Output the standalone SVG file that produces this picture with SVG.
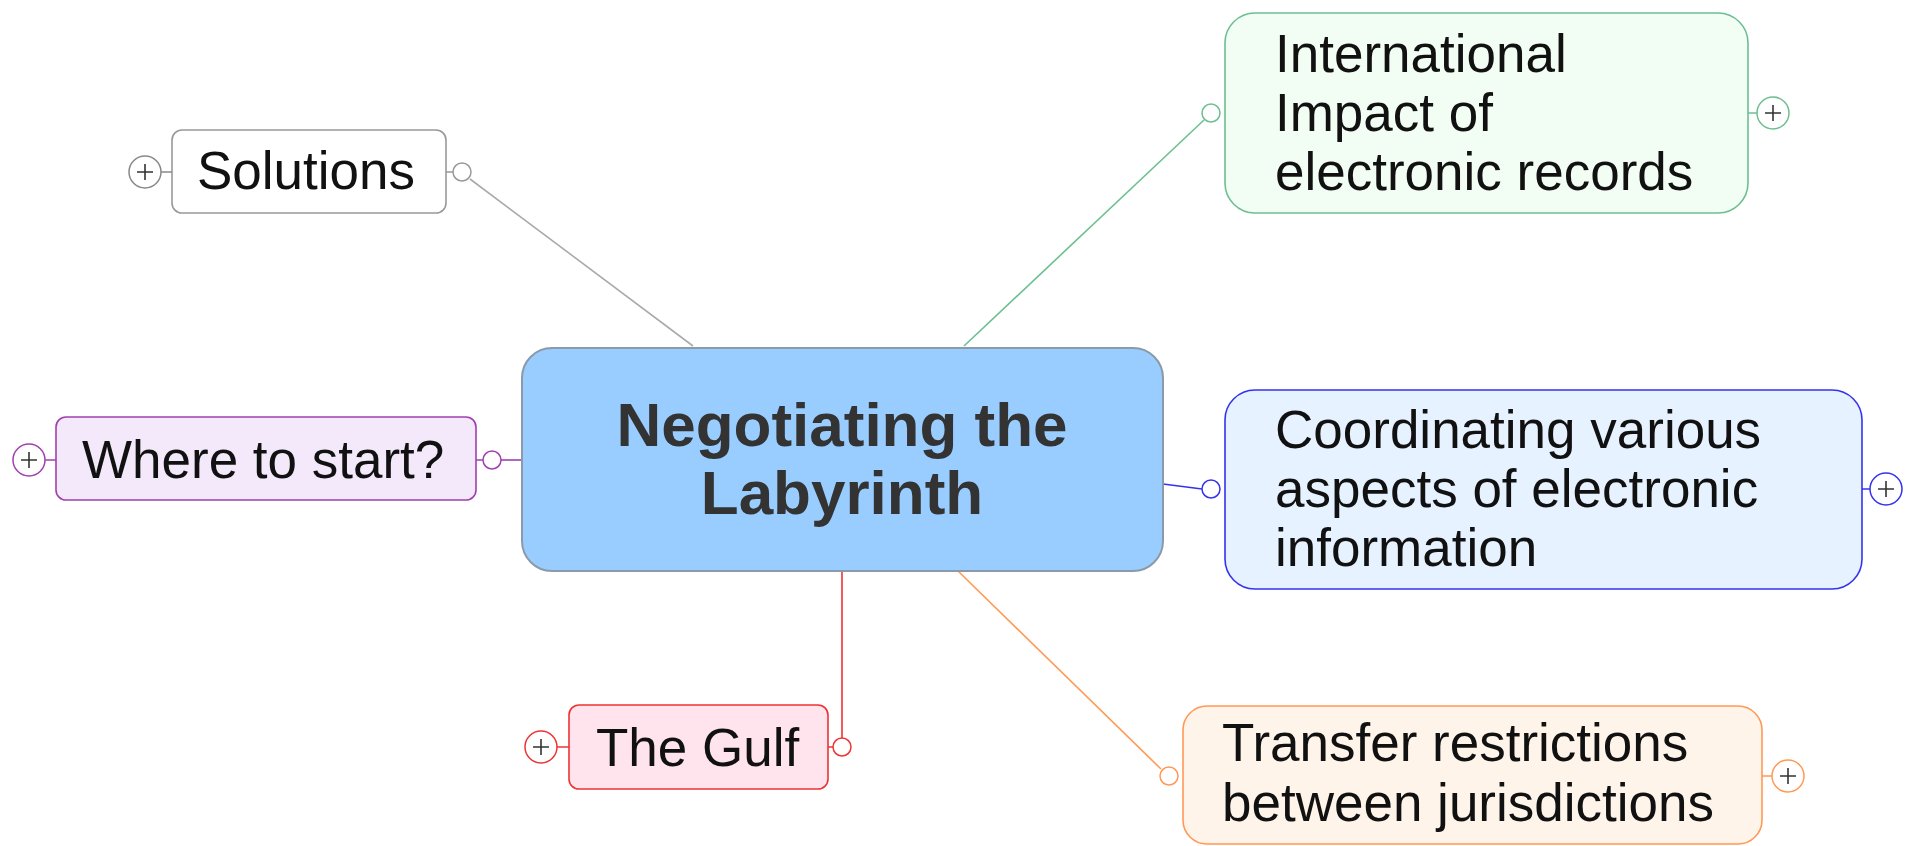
<svg xmlns="http://www.w3.org/2000/svg" width="1923" height="846" viewBox="0 0 1923 846">
<style>
.t{font-family:"Liberation Sans",Arial,Helvetica,sans-serif;font-size:53px;fill:#111}
.c{font-family:"Liberation Sans",Arial,Helvetica,sans-serif;font-size:62px;font-weight:bold;fill:#333;text-anchor:middle}
.b{stroke-width:1.6}
.ln{fill:none;stroke-width:1.6}
.pl{stroke:#333;stroke-width:1.6;fill:none}
</style>
<rect width="1923" height="846" fill="#fff"/>
<g id="connectors">
<line class="ln" x1="470" y1="179" x2="693" y2="346" stroke="#aaa"/>
<line class="ln" x1="1204" y1="120" x2="964" y2="346" stroke="#6cbf92"/>
<line class="ln" x1="1163" y1="484" x2="1202" y2="489" stroke="#3333ee"/>
<line class="ln" x1="958" y1="571" x2="1161" y2="769" stroke="#ff9955"/>
<polyline class="ln" points="842,571 842,738" stroke="#ee3333"/>
<line class="ln" x1="501" y1="460" x2="522" y2="460" stroke="#a040b0"/>
</g>
<g id="central">
<rect x="522" y="348" width="641" height="223" rx="30" fill="#99ccff" stroke="#8a9aa8" stroke-width="2"/>
<text class="c" x="842" y="446">Negotiating the</text>
<text class="c" x="842" y="514">Labyrinth</text>
</g>
<g id="solutions">
<rect class="b" x="172" y="130" width="274" height="83" rx="10" fill="#fff" stroke="#999"/>
<text class="t" x="197" y="189">Solutions</text>
<circle cx="145" cy="172" r="16" fill="#fff" stroke="#888" stroke-width="1.5"/>
<path class="pl" d="M137 172h16M145 164v16"/>
<line x1="161" y1="172" x2="172" y2="172" stroke="#888" stroke-width="1.5"/>
<circle cx="462" cy="172" r="9" fill="#fff" stroke="#999" stroke-width="1.5"/>
<line x1="446" y1="172" x2="453" y2="172" stroke="#999" stroke-width="1.5"/>
</g>
<g id="where">
<rect class="b" x="56" y="417" width="420" height="83" rx="10" fill="#f3e9fb" stroke="#a040b0"/>
<text class="t" x="82" y="478">Where to start?</text>
<circle cx="29" cy="460" r="16" fill="#fff" stroke="#a040b0" stroke-width="1.5"/>
<path class="pl" d="M21 460h16M29 452v16"/>
<line x1="45" y1="460" x2="56" y2="460" stroke="#a040b0" stroke-width="1.5"/>
<circle cx="492" cy="460" r="9" fill="#fff" stroke="#a040b0" stroke-width="1.5"/>
<line x1="476" y1="460" x2="483" y2="460" stroke="#a040b0" stroke-width="1.5"/>
</g>
<g id="gulf">
<rect class="b" x="569" y="705" width="259" height="84" rx="10" fill="#ffe4ee" stroke="#ee3333"/>
<text class="t" x="596" y="766">The Gulf</text>
<circle cx="541" cy="747" r="16" fill="#fff" stroke="#ee3333" stroke-width="1.5"/>
<path class="pl" d="M533 747h16M541 739v16"/>
<line x1="557" y1="747" x2="569" y2="747" stroke="#ee3333" stroke-width="1.5"/>
<circle cx="842" cy="747" r="9" fill="#fff" stroke="#ee3333" stroke-width="1.5"/>
<line x1="828" y1="747" x2="833" y2="747" stroke="#ee3333" stroke-width="1.5"/>
</g>
<g id="international">
<rect class="b" x="1225" y="13" width="523" height="200" rx="30" fill="#f2fdf4" stroke="#6cbf92"/>
<text class="t" x="1275" y="72">International</text>
<text class="t" x="1275" y="131">Impact of</text>
<text class="t" x="1275" y="190">electronic records</text>
<circle cx="1211" cy="113" r="9" fill="#fff" stroke="#6cbf92" stroke-width="1.5"/>
<circle cx="1773" cy="113" r="16" fill="#fff" stroke="#6cbf92" stroke-width="1.5"/>
<path class="pl" d="M1765 113h16M1773 105v16"/>
<line x1="1748" y1="113" x2="1757" y2="113" stroke="#6cbf92" stroke-width="1.5"/>
</g>
<g id="coordinating">
<rect class="b" x="1225" y="390" width="637" height="199" rx="30" fill="#e6f2ff" stroke="#3333ee"/>
<text class="t" x="1275" y="448">Coordinating various</text>
<text class="t" x="1275" y="507">aspects of electronic</text>
<text class="t" x="1275" y="566">information</text>
<circle cx="1211" cy="489" r="9" fill="#fff" stroke="#3333ee" stroke-width="1.5"/>
<circle cx="1886" cy="489" r="16" fill="#fff" stroke="#3333ee" stroke-width="1.5"/>
<path class="pl" d="M1878 489h16M1886 481v16"/>
<line x1="1862" y1="489" x2="1870" y2="489" stroke="#3333ee" stroke-width="1.5"/>
</g>
<g id="transfer">
<rect class="b" x="1183" y="706" width="579" height="138" rx="24" fill="#fff4ea" stroke="#ff9955"/>
<text class="t" x="1222" y="761">Transfer restrictions</text>
<text class="t" x="1222" y="821">between jurisdictions</text>
<circle cx="1169" cy="776" r="9" fill="#fff" stroke="#ff9955" stroke-width="1.5"/>
<circle cx="1788" cy="776" r="16" fill="#fff" stroke="#ff9955" stroke-width="1.5"/>
<path class="pl" d="M1780 776h16M1788 768v16"/>
<line x1="1762" y1="776" x2="1772" y2="776" stroke="#ff9955" stroke-width="1.5"/>
</g>
</svg>
